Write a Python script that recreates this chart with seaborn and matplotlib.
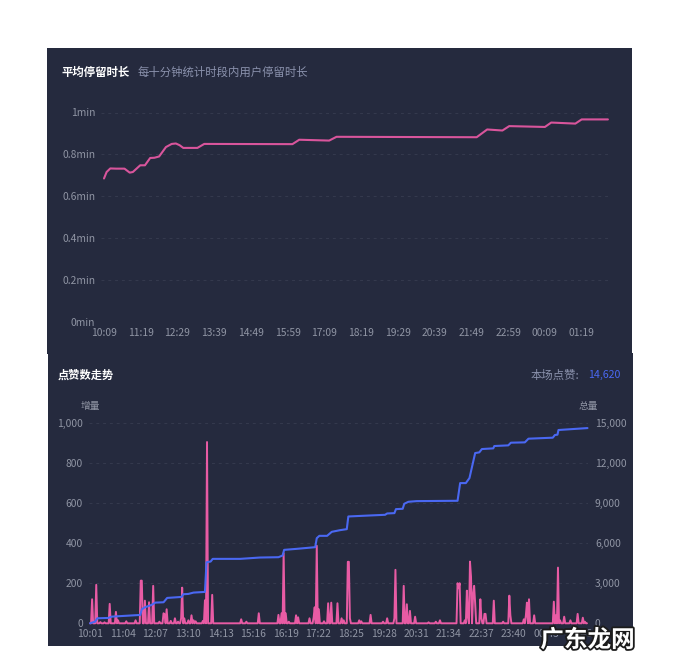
import matplotlib
matplotlib.use("Agg")
import matplotlib.pyplot as plt
import matplotlib.patheffects as pe
from matplotlib.patches import Rectangle
import pandas as pd
import seaborn as sns

# DATA
# average stay, x = minutes after 10:09
stay_min = [0, 5, 12, 23, 39, 49, 55, 69, 78, 88, 96, 105, 118, 129, 137, 144, 151, 178, 191,
            359, 372, 429, 443, 710, 730, 759, 772, 840, 852, 898, 910, 960]
stay_val = [0.685, 0.716, 0.733, 0.732, 0.732, 0.713, 0.716, 0.748, 0.748, 0.783, 0.784, 0.79,
            0.835, 0.85, 0.852, 0.844, 0.831, 0.831, 0.85, 0.849, 0.87, 0.866, 0.884, 0.882,
            0.919, 0.914, 0.935, 0.931, 0.952, 0.947, 0.967, 0.967]
stay_ticks = [0, 70, 140, 210, 280, 350, 420, 490, 560, 630, 700, 770, 840, 910]
stay_tick_labels = ["10:09", "11:19", "12:29", "13:39", "14:49", "15:59", "17:09", "18:19",
                    "19:29", "20:39", "21:49", "22:59", "00:09", "01:19"]
stay_y_ticks = [0, 0.2, 0.4, 0.6, 0.8, 1]
stay_y_labels = ["0min", "0.2min", "0.4min", "0.6min", "0.8min", "1min"]

# likes added, x = minutes after 10:01, only the non zero samples
add_min = [4, 12, 20, 28, 38, 50, 54, 70, 88, 98, 100, 106, 114, 122, 134, 142, 144, 148, 156,
           164, 170, 176, 178, 182, 190, 196, 200, 204, 218, 222, 226, 236, 292, 302, 326, 364,
           370, 374, 378, 384, 398, 402, 424, 432, 434, 438, 442, 452, 460, 466, 478, 486, 490,
           498, 500, 502, 520, 524, 542, 566, 574, 588, 590, 606, 612, 618, 628, 654, 668, 676,
           710, 712, 714, 724, 728, 730, 734, 736, 740, 742, 744, 754, 756, 762, 764, 780, 798,
           810, 812, 838, 842, 844, 848, 858, 896, 900, 904, 908, 916, 928, 942, 952, 956]
add_val = [120, 192, 6, 5, 97, 57, 15, 10, 15, 213, 213, 113, 105, 187, 8, 50, 45, 70, 12,
           25, 8, 25, 178, 25, 15, 40, 15, 10, 12, 115, 905, 142, 20, 8, 50, 42,
           50, 350, 50, 8, 40, 30, 25, 30, 80, 387, 70, 10, 100, 103, 100, 25, 15,
           307, 307, 25, 15, 10, 42, 8, 25, 25, 267, 187, 95, 62, 33, 5, 8, 15,
           200, 175, 200, 15, 163, 30, 308, 233, 142, 187, 100, 120, 25, 47, 47, 113, 8,
           138, 40, 20, 40, 103, 120, 40, 108, 40, 278, 15, 33, 15, 47, 28, 8]

# total likes
total_min = [0, 10, 14, 35, 42, 97, 100, 106, 119, 126, 142, 149, 177, 180, 190, 200, 222, 225,
             233, 237, 290, 328, 364, 372, 375, 399, 435, 438, 443, 458, 467, 483, 496, 499,
             541, 570, 574, 588, 591, 604, 607, 615, 631, 710, 715, 726, 733, 744, 752, 757,
             779, 781, 808, 813, 840, 847, 894, 898, 903, 905, 934, 961]
total_val = [0, 125, 375, 400, 500, 625, 1050, 1200, 1375, 1550, 1575, 1900, 1975, 2175, 2200,
             2300, 2350, 4575, 4625, 4825, 4825, 4925, 4950, 5075, 5500, 5575, 5700, 6375, 6550,
             6550, 6850, 6975, 7050, 8000, 8075, 8125, 8225, 8250, 8550, 8575, 8950, 9100, 9150,
             9175, 10500, 10500, 10875, 12750, 12800, 13050, 13100, 13275, 13325, 13525, 13550,
             13825, 13900, 14100, 14125, 14475, 14550, 14620]
like_ticks = [0, 63, 126, 189, 252, 315, 378, 441, 504, 567, 630, 693, 756, 819, 882, 945]
like_tick_labels = ["10:01", "11:04", "12:07", "13:10", "14:13", "15:16", "16:19", "17:22",
                    "18:25", "19:28", "20:31", "21:34", "22:37", "23:40", "00:43", "01:46"]
left_ticks = [0, 200, 400, 600, 800, 1000]
right_ticks = [0, 3000, 6000, 9000, 12000, 15000]

# COLORS
PANEL = "#252a3e"
GRID = "#353a4e"
TICK = "#9095a4"
PINK = "#e85ba4"
BLUE = "#4a68f2"

sns.set_theme(style="white")
plt.rcParams["font.family"] = ["Noto Sans CJK SC", "DejaVu Sans"]

W, H = 673, 671
fig = plt.figure(figsize=(W / 100, H / 100), dpi=100, facecolor="white")


# pixel box -> axes
def make_axes(x0, x1, y_top, y_bottom):
    return fig.add_axes([x0 / W, 1 - y_bottom / H, (x1 - x0) / W, (y_bottom - y_top) / H], facecolor="none")


def put_text(x, y, s, **kw):
    return fig.text(x / W, 1 - y / H, s, va="center", **kw)


def style_axes(ax, pad_y):
    sns.despine(ax=ax, left=True, bottom=True, right=True, top=True)
    ax.tick_params(axis="both", length=0, labelcolor=TICK, labelsize=7.4)
    ax.tick_params(axis="y", pad=pad_y)
    ax.tick_params(axis="x", pad=4.2)
    ax.set_xlabel("")
    ax.set_ylabel("")


# PANELS
fig.add_artist(Rectangle((47 / W, 1 - 354 / H), 585 / W, 306 / H, transform=fig.transFigure, color=PANEL, lw=0, zorder=-2))
fig.add_artist(Rectangle((48 / W, 1 - 646 / H), 585 / W, 293 / H, transform=fig.transFigure, color=PANEL, lw=0, zorder=-2))

# TOP CHART
ax1 = make_axes(101, 610, 112.5, 322)
sns.lineplot(x=stay_min, y=stay_val, ax=ax1, color="#d9559c", linewidth=1.5, errorbar=None)
ax1.set_xlim(-5.7, 964)
ax1.set_ylim(0, 1)
ax1.set_xticks(stay_ticks, stay_tick_labels)
ax1.set_yticks(stay_y_ticks, stay_y_labels)
ax1.grid(axis="y", color=GRID, lw=0.7, dashes=(3, 4))
style_axes(ax1, 4)

put_text(61, 72, "平均停留时长", color="white", fontsize=8.2, fontweight="bold")
put_text(137.5, 72, "每十分钟统计时段内用户停留时长", color="#8b92ad", fontsize=8.2)

# BOTTOM CHART
add_df = pd.DataFrame({"minute": add_min, "likes": add_val}).set_index("minute")
add_df = add_df.reindex(range(0, 962, 2), fill_value=0).reset_index()

ax2 = make_axes(89, 588, 423, 623.3)
sns.lineplot(data=add_df, x="minute", y="likes", ax=ax2, color=PINK, linewidth=1.4, errorbar=None, clip_on=False)
ax2.set_xlim(-2, 962)
ax2.set_ylim(0, 1000)
ax2.set_xticks(like_ticks, like_tick_labels)
ax2.set_yticks(left_ticks, [f"{v:,}" for v in left_ticks])
ax2.grid(axis="y", color=GRID, lw=0.7, dashes=(3, 4))
style_axes(ax2, 4.3)

ax3 = ax2.twinx()
ax3.set_facecolor("none")
sns.lineplot(x=total_min, y=total_val, ax=ax3, color=BLUE, linewidth=1.5, errorbar=None, clip_on=False)
ax3.set_ylim(0, 15000)
ax3.set_yticks(right_ticks, [f"{v:,}" for v in right_ticks])
style_axes(ax3, 5)

put_text(58, 375, "点赞数走势", color="white", fontsize=8.1, fontweight="bold")
put_text(531, 375, "本场点赞:", color="#8b92ad", fontsize=8.2)
put_text(588, 375, "14,620", color=BLUE, fontsize=7.6)
put_text(90, 406, "增量", color=TICK, fontsize=7, ha="center")
put_text(588, 406, "总量", color=TICK, fontsize=7, ha="center")

# WATERMARK
mark = put_text(587.5, 640, "广东龙网", color="white", fontsize=17, fontweight="bold", ha="center", zorder=5)
mark.set_path_effects([pe.withStroke(linewidth=2.6, foreground="#1c1c1c")])

fig.savefig("out.png", dpi=100)
